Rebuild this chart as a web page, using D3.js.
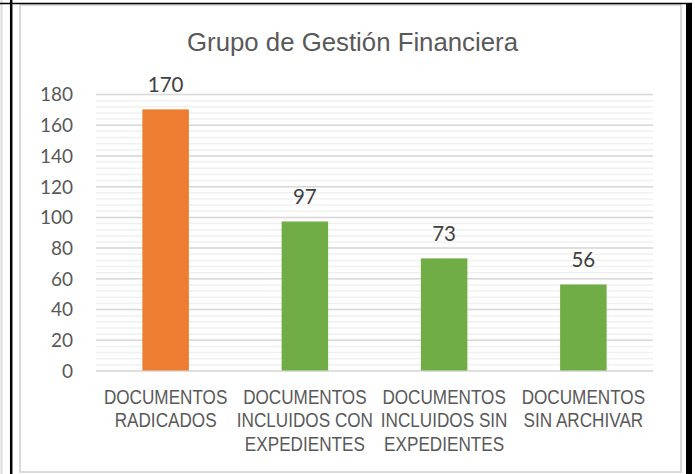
<!DOCTYPE html>
<html>
<head>
<meta charset="utf-8">
<script src="https://cdn.jsdelivr.net/npm/d3@7"></script>
<style>
  body { margin: 0; background: #fff; }
  svg { display: block; }
</style>
</head>
<body>
<svg id="chart" width="695" height="474"></svg>
<script>

// values
var categories = ["rad", "con", "sin", "arch"];
var categoryLines = [
    ["DOCUMENTOS", "RADICADOS"],
    ["DOCUMENTOS", "INCLUIDOS CON", "EXPEDIENTES"],
    ["DOCUMENTOS", "INCLUIDOS SIN", "EXPEDIENTES"],
    ["DOCUMENTOS", "SIN ARCHIVAR"]];
var values = [170, 97, 73, 56];
var barColors = ["#ED7D31", "#70AD47", "#70AD47", "#70AD47"];
var yTicks = [0, 20, 40, 60, 80, 100, 120, 140, 160, 180];
var yMinorTicks = d3.range(0, 181, 4);
var title = "Grupo de Gestión Financiera";

var svg = d3.select("#chart");
var width = 695, height = 474;

var plot = {left: 96, right: 653, top: 94, bottom: 370.5};

var x = d3.scaleBand()
    .domain(categories)
    .range([plot.left, plot.right])
    .paddingInner(0.666)
    .paddingOuter(0.333);

var y = d3.scaleLinear()
    .domain([0, 180])
    .range([plot.bottom, plot.top]);

// page frame around the chart
svg.append("rect").attr("x", 0).attr("y", 0).attr("width", width).attr("height", height).attr("fill", "#fff");
svg.append("line").attr("x1", 1.5).attr("x2", 1.5).attr("y1", 0).attr("y2", height)
    .attr("stroke", "#dcdcdc").attr("stroke-width", 2);
svg.append("rect").attr("x", 20).attr("y", 5).attr("width", 661).attr("height", 467)
    .attr("fill", "#fff").attr("stroke", "#d9d9d9").attr("stroke-width", 2);
svg.append("line").attr("x1", 11.2).attr("x2", 11.2).attr("y1", 0).attr("y2", height)
    .attr("stroke", "#000").attr("stroke-width", 2.5);
svg.append("line").attr("x1", 0).attr("x2", 692).attr("y1", 3.5).attr("y2", 3.5)
    .attr("stroke", "#000").attr("stroke-width", 1.5);
svg.append("rect").attr("x", 686).attr("y", 3).attr("width", 6).attr("height", height - 3)
    .attr("fill", "#000");

// gridlines
svg.append("g")
    .attr("transform", "translate(" + plot.left + ",0)")
    .call(d3.axisLeft(y).tickValues(yMinorTicks).tickSize(-(plot.right - plot.left)).tickFormat(""))
    .call(function(g) {
        g.select(".domain").remove();
        g.selectAll(".tick line").attr("stroke", "#f0f0f0").attr("stroke-width", 1.5);
    });

svg.append("g")
    .attr("transform", "translate(" + plot.left + ",0)")
    .call(d3.axisLeft(y).tickValues(yTicks).tickSize(-(plot.right - plot.left)).tickFormat(""))
    .call(function(g) {
        g.select(".domain").remove();
        g.selectAll(".tick line").attr("stroke", "#d9d9d9").attr("stroke-width", 1.5);
    });

// y axis labels
svg.append("g")
    .attr("transform", "translate(73,0)")
    .call(d3.axisLeft(y).tickValues(yTicks).tickSize(0).tickPadding(0))
    .call(function(g) {
        g.select(".domain").remove();
        g.selectAll(".tick text")
            .attr("fill", "#595959")
            .attr("font-family", "Lato, 'Open Sans', sans-serif")
            .attr("font-size", 19)
            .attr("dy", "0.36em");
    });

// bars
svg.selectAll("rect.bar")
    .data(values)
    .enter().append("rect")
    .attr("class", "bar")
    .attr("x", function(d, i) { return x(categories[i]); })
    .attr("width", x.bandwidth())
    .attr("y", function(d) { return y(d); })
    .attr("height", function(d) { return y(0) - y(d); })
    .attr("fill", function(d, i) { return barColors[i]; });

// data labels
svg.selectAll("text.val")
    .data(values)
    .enter().append("text")
    .attr("class", "val")
    .attr("x", function(d, i) { return x(categories[i]) + x.bandwidth() / 2; })
    .attr("y", function(d) { return y(d) - 17.5; })
    .attr("text-anchor", "middle")
    .attr("fill", "#404040")
    .attr("font-family", "Lato, 'Open Sans', sans-serif")
    .attr("font-size", 20.5)
    .text(function(d) { return d; });

// category labels: arial-ish, narrower than normal like the original
var catFont = 18.5, catStretch = 20.5 / 18.5;

var cat = svg.selectAll("g.cat")
    .data(categoryLines)
    .enter().append("g")
    .attr("class", "cat")
    .attr("transform", function(d, i) {
        return "translate(" + (x(categories[i]) + x.bandwidth() / 2) + ",0)";
    });

cat.selectAll("text")
    .data(function(d) { return d; })
    .enter().append("text")
    .attr("transform", function(d, j) {
        return "translate(0," + (403.5 + j * 23.5) + ") scale(1," + catStretch + ")";
    })
    .attr("text-anchor", "middle")
    .attr("fill", "#595959")
    .attr("font-family", "'Liberation Sans', Arial, sans-serif")
    .attr("font-size", catFont)
    .text(function(d) { return d; });

var probe = cat.select("text").node();
var catScale = 123.5 / probe.getComputedTextLength();
cat.selectAll("text").each(function() {
    var w = this.getComputedTextLength();
    d3.select(this).attr("textLength", w * catScale).attr("lengthAdjust", "spacingAndGlyphs");
});

// title
svg.append("text")
    .attr("x", 352.5)
    .attr("y", 51)
    .attr("text-anchor", "middle")
    .attr("fill", "#595959")
    .attr("font-family", "'Liberation Sans', Arial, sans-serif")
    .attr("font-size", 26.5)
    .attr("textLength", 331)
    .attr("lengthAdjust", "spacingAndGlyphs")
    .text(title);

</script>
</body>
</html>
